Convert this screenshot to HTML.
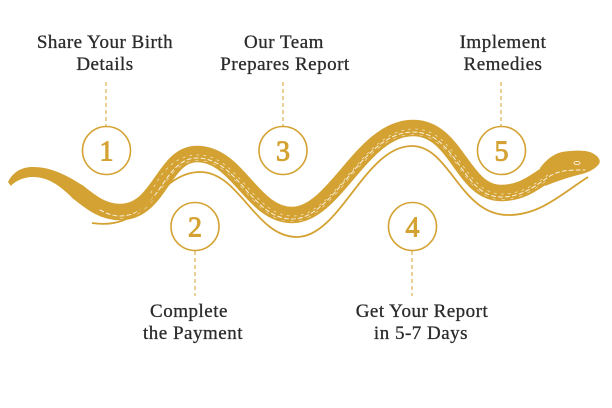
<!DOCTYPE html>
<html><head><meta charset="utf-8">
<style>
html,body{margin:0;padding:0;background:#fff;}
svg{display:block;}
.t{font-family:"Liberation Serif",serif;font-size:19px;fill:#2b2b2b;stroke:#2b2b2b;stroke-width:0.3px;letter-spacing:0.5px;}
.n{font-family:"Liberation Serif",serif;font-size:28px;fill:#d4a232;stroke:#d4a232;stroke-width:0.9px;}
</style></head>
<body>
<svg width="612" height="408" viewBox="0 0 612 408" xmlns="http://www.w3.org/2000/svg">

<!-- tail -->
<path d="M 8 182 C 14 170, 24 167, 33 167 C 52 167, 68 176, 83 185.7 L 72.9 198.3 C 62 188, 50 177, 33 177 C 24 177, 15 181, 11 186 Z" fill="#d4a232"/>
<!-- body -->
<path d="M 77.9 192 C 90.5 202, 102.5 212, 120 212 C 160 212, 163 154, 197 154 C 238 154, 252 215, 292 215 C 335 215, 362 128, 413 128 C 457 128, 462 193, 501 193 C 522 193, 535 182, 550 172 C 556 168, 562 165, 572 162" fill="none" stroke="#d4a232" stroke-width="16.5" stroke-linecap="round"/>
<!-- head -->
<path d="M 540 168 C 546 160, 553 154, 562 152 C 575 150, 588 150, 594 154 C 599 157, 601 161, 599 164 C 596 168, 590 172, 582 174 C 570 177, 560 180, 545 186 Z" fill="#d4a232"/>

<!-- texture -->
<g fill="none" stroke="#fff" stroke-linecap="round">
<path transform="translate(0,4)" d="M 100 206 C 106 209, 112 212, 120 212 C 160 212, 163 154, 197 154 C 238 154, 252 215, 292 215 C 335 215, 362 128, 413 128 C 457 128, 462 193, 501 193 C 522 193, 535 182, 550 172 C 560 166, 570 166, 585 166" stroke-width="1" stroke-dasharray="4 3" opacity="0.85"/>
<path transform="translate(1,1)" d="M 150 192 C 160 170, 175 154, 197 154 C 238 154, 252 215, 292 215 C 335 215, 362 128, 413 128 C 457 128, 462 193, 501 193 C 522 193, 535 182, 550 172" stroke-width="0.8" stroke-dasharray="2 5" opacity="0.7"/>
<path transform="translate(0,6.5)" d="M 120 212 C 160 212, 163 154, 197 154 C 238 154, 252 215, 292 215 C 335 215, 362 128, 413 128 C 457 128, 462 193, 501 193 C 522 193, 535 182, 550 172" stroke-width="0.7" stroke-dasharray="3 6" opacity="0.6"/>
</g>
<!-- eye -->
<ellipse cx="577" cy="163" rx="3" ry="1.6" fill="none" stroke="#fff" stroke-width="0.8"/>

<!-- thin outline -->
<path d="M 92 223 C 112 226, 130 222, 150 202 C 165 186, 180 172, 200 172 C 240 172, 255 237, 297 237 C 340 237, 365 146, 412 146 C 450 146, 460 215, 508 215 C 540 215, 560 195, 588 177" fill="none" stroke="#d4a232" stroke-width="1.8"/>

<!-- connectors -->
<g stroke="#d4a232" stroke-width="1" stroke-dasharray="4 3" fill="none">
<line x1="106" y1="82" x2="106" y2="126"/>
<line x1="283" y1="82" x2="283" y2="126"/>
<line x1="501" y1="82" x2="501" y2="126"/>
<line x1="195" y1="251" x2="195" y2="296"/>
<line x1="412" y1="251" x2="412" y2="296"/>
</g>

<!-- circles -->
<g fill="#fff" stroke="#d4a232" stroke-width="1.6">
<circle cx="106.5" cy="150.5" r="24"/>
<circle cx="283" cy="150.5" r="24"/>
<circle cx="501.5" cy="150.5" r="24"/>
<circle cx="195" cy="226.5" r="24"/>
<circle cx="412.5" cy="226.5" r="24"/>
</g>
<g text-anchor="middle">
<text class="n" x="106.5" y="160.5">1</text>
<text class="n" x="283" y="160.5">3</text>
<text class="n" x="501.5" y="160.5">5</text>
<text class="n" x="195" y="236.5">2</text>
<text class="n" x="412.5" y="236.5">4</text>
</g>

<!-- labels -->
<g text-anchor="middle">
<text class="t" x="105" y="48">Share Your Birth</text>
<text class="t" x="105" y="70">Details</text>
<text class="t" x="284" y="48">Our Team</text>
<text class="t" x="285" y="70">Prepares Report</text>
<text class="t" x="503" y="48">Implement</text>
<text class="t" x="503" y="70">Remedies</text>
<text class="t" x="189" y="317">Complete</text>
<text class="t" x="193" y="339">the Payment</text>
<text class="t" x="422" y="317">Get Your Report</text>
<text class="t" x="421" y="339">in 5-7 Days</text>
</g>
</svg>
</body></html>
